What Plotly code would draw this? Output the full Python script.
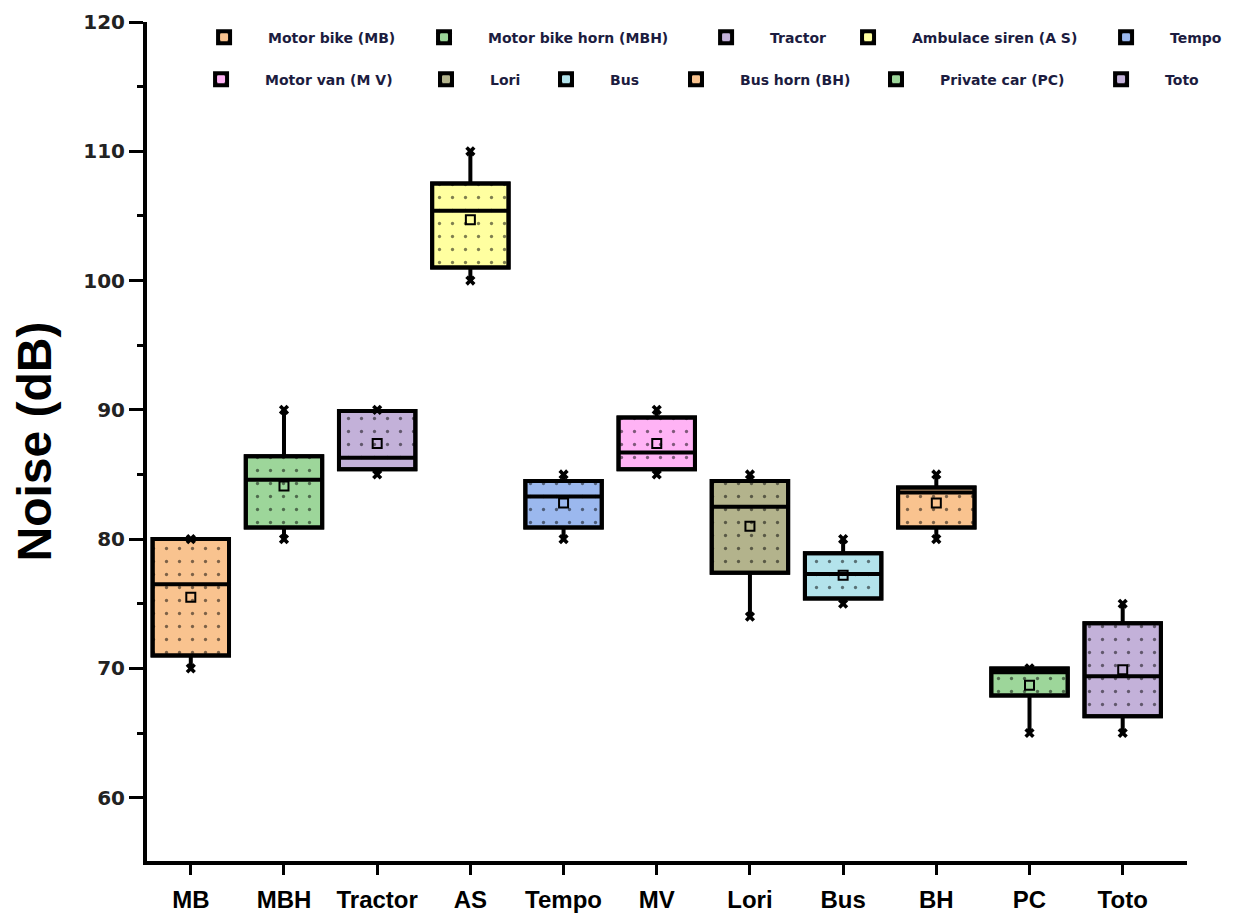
import plotly.graph_objects as go

categories = ["MB", "MBH", "Tractor", "AS", "Tempo", "MV", "Lori", "Bus", "BH", "PC", "Toto"]
legend_names = ["Motor bike (MB)", "Motor bike horn (MBH)", "Tractor", "Ambulace siren (A S)", "Tempo",
                "Motor van (M V)", "Lori", "Bus", "Bus horn (BH)", "Private car (PC)", "Toto"]
q1 = [71.0, 80.9, 85.4, 101.0, 80.9, 85.4, 77.4, 75.4, 80.9, 67.9, 66.3]
median = [76.5, 84.6, 86.3, 105.4, 83.3, 86.7, 82.5, 77.3, 83.6, 69.7, 69.4]
q3 = [80.0, 86.4, 89.9, 107.5, 84.5, 89.4, 84.5, 78.9, 84.0, 70.0, 73.5]
mean = [75.5, 84.1, 87.4, 104.7, 82.8, 87.4, 81.0, 77.2, 82.8, 68.7, 69.9]
minimum = [70, 80, 85, 100, 80, 85, 74, 75, 80, 65, 65]
maximum = [80, 90, 90, 110, 85, 90, 85, 80, 85, 70, 75]
colors = ["#F9C38F", "#9DD69A", "#C3B1D9", "#FFFFA0", "#9BB8EE", "#FFB3F5",
          "#B3B38C", "#B3E3EB", "#F9C38F", "#9DD69A", "#C3B1D9"]

# legend placement (paper coords): x of each entry, row y
legend_x = [0.0318, 0.2433, 0.5145, 0.6510, 0.8991,
            0.0289, 0.2452, 0.3606, 0.4856, 0.6779, 0.8943]
legend_y = [1.0005] * 5 + [0.9505] * 6

BOXW = 0.82
fig = go.Figure()

legend_layout = {}
legend_font = dict(size=14, family="DejaVu Sans", color="#1c1c40", weight="bold")
for i, cat in enumerate(categories):
    lid = "legend" if i == 0 else f"legend{i + 1}"
    legend_layout[lid] = dict(orientation="h", x=legend_x[i], y=legend_y[i],
                              xanchor="left", yanchor="top", font=legend_font,
                              bgcolor="rgba(0,0,0,0)", itemwidth=78)
    fig.add_trace(go.Bar(
        x=[cat], y=[q3[i] - q1[i]], base=[q1[i]], width=BOXW,
        name=legend_names[i], legend=lid,
        marker=dict(color=colors[i], line=dict(color="black", width=4),
                    pattern=dict(shape=".", fgcolor="black", size=13, solidity=0.05,
                                 fillmode="overlay")),
        hoverinfo="skip",
    ))

for i, cat in enumerate(categories):
    fig.add_trace(go.Box(
        x=[cat], q1=[q1[i]], median=[median[i]], q3=[q3[i]],
        lowerfence=[minimum[i]], upperfence=[maximum[i]],
        width=BOXW, fillcolor="rgba(0,0,0,0)", line=dict(color="black", width=4),
        whiskerwidth=0, showlegend=False, boxpoints=False,
    ))

fig.add_trace(go.Scatter(x=categories, y=mean, mode="markers", showlegend=False,
                         marker=dict(symbol="square-open", size=9, color="black",
                                     line=dict(width=2, color="black"))))
fig.add_trace(go.Scatter(x=categories, y=maximum, mode="markers", showlegend=False,
                         marker=dict(symbol="x", size=9, color="black")))
fig.add_trace(go.Scatter(x=categories, y=minimum, mode="markers", showlegend=False,
                         marker=dict(symbol="x", size=9, color="black")))

fig.update_layout(
    width=1238, height=918,
    margin=dict(l=139, r=59, t=14, b=65),
    paper_bgcolor="white", plot_bgcolor="white",
    barmode="overlay", boxmode="overlay",
    **legend_layout,
    xaxis=dict(type="category", categoryorder="array", categoryarray=categories,
               range=[-0.47, 10.69], showline=True, linecolor="black", linewidth=4,
               ticks="outside", ticklen=10, tickwidth=3, tickcolor="black",
               automargin=False, ticklabelstandoff=4,
               tickfont=dict(family="Liberation Sans", size=24,
                             color="black", weight="bold"),
               showgrid=False, zeroline=False),
    yaxis=dict(range=[55.1, 120], showline=True, linecolor="black", linewidth=4,
               tickvals=[60, 70, 80, 90, 100, 110, 120],
               ticks="outside", ticklen=14, tickwidth=3, tickcolor="black",
               automargin=False,
               minor=dict(tickvals=[65, 75, 85, 95, 105, 115], ticks="outside",
                         ticklen=6, tickwidth=3, tickcolor="black"),
               tickfont=dict(family="DejaVu Sans", size=20, color="#222", weight="bold"),
               title=dict(text="Noise (dB)", standoff=22,
                          font=dict(family="Liberation Sans", size=48, color="black",
                                    weight="bold")),
               showgrid=False, zeroline=False),
)

fig.write_html("out.html")
